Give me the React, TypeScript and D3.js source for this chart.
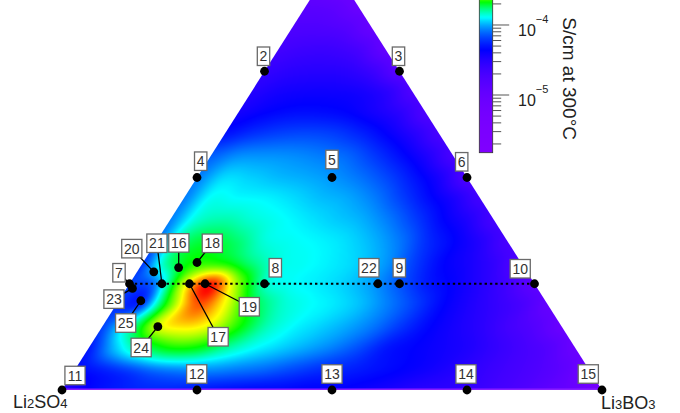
import React, { useMemo } from "react";
import * as d3 from "d3";

const WIDTH = 680;
const HEIGHT = 413;
const FONT = "'Liberation Sans', Arial, Helvetica, sans-serif";

// Sample compositions (mole fractions). The apex component is 1 − Li2SO4 − Li3BO3.
const sampleIds = [2, 3, 4, 5, 6, 7, 8, 9, 10, 11, 12, 13, 14, 15, 16, 17, 18, 19, 20, 21, 22, 23, 24, 25];
const fracLi2SO4 = [0.25, 0, 0.5, 0.25, 0, 0.75, 0.5, 0.25, 0, 1, 0.75, 0.5, 0.25, 0, 0.64, 0.639, 0.6, 0.61, 0.691, 0.69, 0.29, 0.75, 0.748, 0.749];
const fracLi3BO3 = [0, 0.25, 0, 0.25, 0.5, 0, 0.25, 0.5, 0.75, 0, 0.25, 0.5, 0.75, 1, 0.072, 0.111, 0.1, 0.14, 0.031, 0.06, 0.46, 0.011, 0.103, 0.041];

// Label box placement relative to each sample point, and whether a leader line is drawn
const labelDx = [-1, -1, 3.7, 0, -5.3, -10.5, 10.8, -0.2, -14.3, 13, -0.3, 0, -1, -13.7, 0.2, 28.7, 15.3, 44.2, -22, -5, -9, -18.5, -16.7, -15.2];
const labelDy = [-15, -15, -16.3, -18, -15.7, -11, -16, -16, -15, -14.5, -16, -16, -16, -16, -24.7, 53, -19.2, 23, -23.2, -40.5, -16, 10.7, 20.8, 22.3];
const hasLeader = [0, 0, 0, 0, 0, 1, 0, 0, 0, 0, 0, 0, 0, 0, 1, 1, 1, 1, 1, 1, 0, 1, 1, 1];

// Tie-line at 25 mol% of the apex component (from sample 7 to sample 10)
const tieLine = [7, 10];

// Conductivity at 300 °C on a ternary grid, in units of 1e-4 S/cm.
// Row i holds apex fraction c = i/20; entries run over Li3BO3 fraction b = 0, 0.05, ... , 1 − c.
const GRID_STEP = 0.05;
const sigmaRows: number[][] = [
  [0.30, 0.44, 0.51, 0.55, 0.55, 0.51, 0.48, 0.46, 0.46, 0.44, 0.44, 0.41, 0.37, 0.32, 0.30, 0.27, 0.22, 0.18, 0.13, 0.09, 0.04],
  [0.46, 0.55, 0.69, 0.86, 0.93, 0.93, 0.86, 0.79, 0.69, 0.60, 0.55, 0.49, 0.44, 0.39, 0.33, 0.27, 0.22, 0.18, 0.13, 0.07],
  [0.51, 1.10, 1.75, 2.15, 2.10, 1.65, 1.32, 1.14, 1.00, 0.86, 0.69, 0.51, 0.44, 0.39, 0.34, 0.27, 0.21, 0.16, 0.09],
  [0.65, 1.45, 2.75, 3.05, 2.85, 2.20, 1.56, 1.28, 1.14, 1.00, 0.83, 0.62, 0.46, 0.37, 0.30, 0.22, 0.16, 0.09],
  [0.60, 0.70, 2.45, 3.50, 2.95, 2.00, 1.49, 1.31, 1.21, 1.07, 0.86, 0.65, 0.46, 0.35, 0.27, 0.20, 0.11],
  [0.65, 0.90, 2.75, 3.70, 2.60, 1.50, 1.30, 1.22, 1.12, 0.95, 0.72, 0.52, 0.42, 0.32, 0.22, 0.13],
  [0.62, 1.70, 2.20, 2.15, 1.72, 1.38, 1.30, 1.22, 1.12, 0.93, 0.65, 0.46, 0.37, 0.27, 0.16],
  [0.79, 1.70, 1.95, 1.75, 1.40, 1.31, 1.25, 1.17, 1.03, 0.83, 0.58, 0.44, 0.32, 0.20],
  [0.86, 1.42, 1.55, 1.42, 1.31, 1.21, 1.12, 1.03, 0.86, 0.65, 0.46, 0.34, 0.21],
  [0.85, 1.30, 1.28, 1.25, 1.17, 1.07, 1.00, 0.86, 0.66, 0.48, 0.35, 0.22],
  [0.85, 1.15, 1.12, 1.05, 1.00, 0.93, 0.82, 0.67, 0.50, 0.35, 0.18],
  [0.75, 0.90, 0.92, 0.90, 0.85, 0.78, 0.63, 0.48, 0.34, 0.20],
  [0.50, 0.60, 0.66, 0.68, 0.65, 0.56, 0.44, 0.32, 0.20],
  [0.38, 0.44, 0.48, 0.48, 0.45, 0.38, 0.30, 0.18],
  [0.32, 0.37, 0.39, 0.39, 0.37, 0.30, 0.18],
  [0.27, 0.30, 0.31, 0.30, 0.24, 0.14],
  [0.22, 0.24, 0.24, 0.20, 0.11],
  [0.18, 0.18, 0.16, 0.10],
  [0.14, 0.13, 0.09],
  [0.10, 0.07],
  [0.06],
];

// Colour scale limits (S/cm); hue runs linearly in conductivity from violet to red
const SIGMA_MIN = 1.5e-6;
const SIGMA_MAX = 3.8e-4;

// Ternary layout: horizontal position of (b + c/2), vertical position of c
const xPos = d3.scaleLinear().domain([0, 1]).range([62, 602]);
const yPos = d3.scaleLinear().domain([0, 1]).range([390, -35]);

// Colour bar axis (log)
const cbScale = d3.scaleLog().domain([SIGMA_MIN, SIGMA_MAX]).range([152.7, -15.6]);
const CB_X = 479.3;
const CB_W = 13.4;

const hueScale = d3.scaleLinear().domain([SIGMA_MIN, SIGMA_MAX]).range([270, 0]).clamp(true);
const colorOf = (s: number) => d3.rgb(d3.hsl(hueScale(s), 1, 0.5));

const place = (a: number, b: number) => {
  const c = 1 - a - b;
  return [xPos(b + c / 2), yPos(c)];
};

function catmullRom(t: number) {
  const t2 = t * t;
  const t3 = t2 * t;
  return [
    (-t3 + 2 * t2 - t) / 2,
    (3 * t3 - 5 * t2 + 2) / 2,
    (-3 * t3 + 4 * t2 + t) / 2,
    (t3 - t2) / 2,
  ];
}

function buildHeatmap() {
  const [x0, x1] = xPos.range();
  const [yb, yt] = yPos.range();
  const w = Math.ceil(x1 - x0) + 1;
  const h = Math.ceil(yb - yt) + 1;
  const canvas = document.createElement("canvas");
  canvas.width = w;
  canvas.height = h;
  const ctx = canvas.getContext("2d");
  if (!ctx) return { href: "", x: x0, y: yt, w, h };
  const img = ctx.createImageData(w, h);
  const N = sigmaRows.length - 1;
  const node = (i: number, j: number) => {
    const ii = Math.max(0, Math.min(N, i));
    const jj = Math.max(0, Math.min(N - ii, j));
    return sigmaRows[ii][jj];
  };
  const LUT = 1024;
  const lut: number[][] = [];
  for (let k = 0; k < LUT; k++) {
    const s = SIGMA_MIN + ((SIGMA_MAX - SIGMA_MIN) * k) / (LUT - 1);
    const col = colorOf(s);
    lut.push([col.r, col.g, col.b]);
  }
  for (let py = 0; py < h; py++) {
    const y = yt + py + 0.5;
    const c = yPos.invert(y);
    if (c < -0.02) continue;
    for (let px = 0; px < w; px++) {
      const x = x0 + px + 0.5;
      const b = xPos.invert(x) - c / 2;
      if (b < -0.02 || b + c > 1.02) continue;
      const u = Math.max(0, b) / GRID_STEP;
      const v = Math.max(0, c) / GRID_STEP;
      const i0 = Math.floor(v);
      const j0 = Math.floor(u);
      const wi = catmullRom(v - i0);
      const wj = catmullRom(u - j0);
      let s = 0;
      for (let a = 0; a < 4; a++) {
        for (let q = 0; q < 4; q++) {
          s += wi[a] * wj[q] * node(i0 - 1 + a, j0 - 1 + q);
        }
      }
      const sigma = s * 1e-4;
      let k = Math.round(((sigma - SIGMA_MIN) / (SIGMA_MAX - SIGMA_MIN)) * (LUT - 1));
      k = Math.max(0, Math.min(LUT - 1, k));
      const idx = (py * w + px) * 4;
      img.data[idx] = lut[k][0];
      img.data[idx + 1] = lut[k][1];
      img.data[idx + 2] = lut[k][2];
      img.data[idx + 3] = 255;
    }
  }
  ctx.putImageData(img, 0, 0);
  return { href: canvas.toDataURL("image/png"), x: x0, y: yt, w, h };
}

function LabelBox({ x, y, text }: { x: number; y: number; text: string }) {
  const fs = 14;
  const bw = text.length * fs * 0.556 + 4.6;
  const bh = 18.5;
  return (
    <g>
      <rect x={x - bw / 2} y={y - bh / 2} width={bw} height={bh} fill="#fff" stroke="#6a6a6a" strokeWidth={1.3} />
      <text x={x} y={y} dy="0.36em" textAnchor="middle" fontSize={fs} fill="#333" fontFamily={FONT}>
        {text}
      </text>
    </g>
  );
}

export default function App() {
  const heat = useMemo(() => buildHeatmap(), []);

  const pts = sampleIds.map((id, k) => {
    const [x, y] = place(fracLi2SO4[k], fracLi3BO3[k]);
    return { id, x, y, lx: x + labelDx[k], ly: y + labelDy[k], leader: hasLeader[k] === 1 };
  });
  const byId = (id: number) => pts.find((p) => p.id === id)!;
  const tA = byId(tieLine[0]);
  const tB = byId(tieLine[1]);

  const L = place(1, 0);
  const R = place(0, 1);
  const T = place(0, 0);
  const triPath = `M${L[0]},${L[1]}L${R[0]},${R[1]}L${T[0]},${T[1]}Z`;

  const [cbBottom, cbTop] = cbScale.range();
  const stops = d3.range(0, 121).map((k) => {
    const t = k / 120;
    const y = cbTop + t * (cbBottom - cbTop);
    return { offset: t, color: colorOf(cbScale.invert(y)).formatHex() };
  });
  const ticks = cbScale.ticks();
  const isMajor = (v: number) => Math.abs(Math.log10(v) - Math.round(Math.log10(v))) < 1e-6;

  return (
    <svg
      width={WIDTH}
      height={HEIGHT}
      viewBox={`0 0 ${WIDTH} ${HEIGHT}`}
      style={{ position: "fixed", left: 0, top: 0, background: "#fff" }}
    >
      <defs>
        <clipPath id="tri">
          <path d={triPath} />
        </clipPath>
        <linearGradient id="cbGrad" x1="0" y1="0" x2="0" y2="1">
          {stops.map((s, i) => (
            <stop key={i} offset={s.offset} stopColor={s.color} />
          ))}
        </linearGradient>
      </defs>

      <rect x={0} y={0} width={WIDTH} height={HEIGHT} fill="#fff" />

      {heat.href && (
        <image
          href={heat.href}
          x={heat.x}
          y={heat.y}
          width={heat.w}
          height={heat.h}
          preserveAspectRatio="none"
          clipPath="url(#tri)"
        />
      )}
      <line x1={L[0]} y1={L[1] - 0.8} x2={R[0]} y2={R[1] - 0.8} stroke="#8a1cff" strokeWidth={1.6} />

      <line x1={tA.x} y1={tA.y} x2={tB.x} y2={tB.y} stroke="#000" strokeWidth={2} strokeDasharray="2.4 2.9" />

      {pts.filter((p) => p.leader).map((p) => (
        <line key={`l${p.id}`} x1={p.lx} y1={p.ly} x2={p.x} y2={p.y} stroke="#000" strokeWidth={1.3} />
      ))}
      {pts.map((p) => (
        <circle key={`c${p.id}`} cx={p.x} cy={p.y} r={4.4} fill="#000" />
      ))}
      {pts.map((p) => (
        <LabelBox key={`b${p.id}`} x={p.lx} y={p.ly} text={String(p.id)} />
      ))}

      {/* colour bar */}
      <rect x={CB_X} y={cbTop} width={CB_W} height={cbBottom - cbTop} fill="url(#cbGrad)" stroke="#333" strokeWidth={0.8} />
      {ticks.map((v, i) => {
        const y = cbScale(v);
        const major = isMajor(v);
        return (
          <line key={`t${i}`} x1={CB_X + CB_W} x2={CB_X + CB_W + (major ? 16.5 : 8.5)} y1={y} y2={y} stroke="#555" strokeWidth={1} />
        );
      })}
      {ticks.filter(isMajor).map((v, i) => {
        const y = cbScale(v);
        const e = Math.round(Math.log10(v));
        return (
          <text key={`tl${i}`} x={518} y={y + 11} fontSize={16} fill="#222" fontFamily={FONT}>
            10
            <tspan dy={-13} fontSize={11}>{`\u2212${Math.abs(e)}`}</tspan>
          </text>
        );
      })}
      <text
        transform={`translate(563,140) rotate(90)`}
        textAnchor="end"
        fontSize={19}
        fill="#222"
        fontFamily={FONT}
      >
        S/cm at 300°C
      </text>

      {/* end-member labels */}
      <text x={13} y={408} fontSize={18} fill="#222" fontFamily={FONT}>
        Li<tspan fontSize={13}>2</tspan>SO<tspan fontSize={13}>4</tspan>
      </text>
      <text x={601} y={409} fontSize={18} fill="#222" fontFamily={FONT}>
        Li<tspan fontSize={13}>3</tspan>BO<tspan fontSize={13}>3</tspan>
      </text>
    </svg>
  );
}
